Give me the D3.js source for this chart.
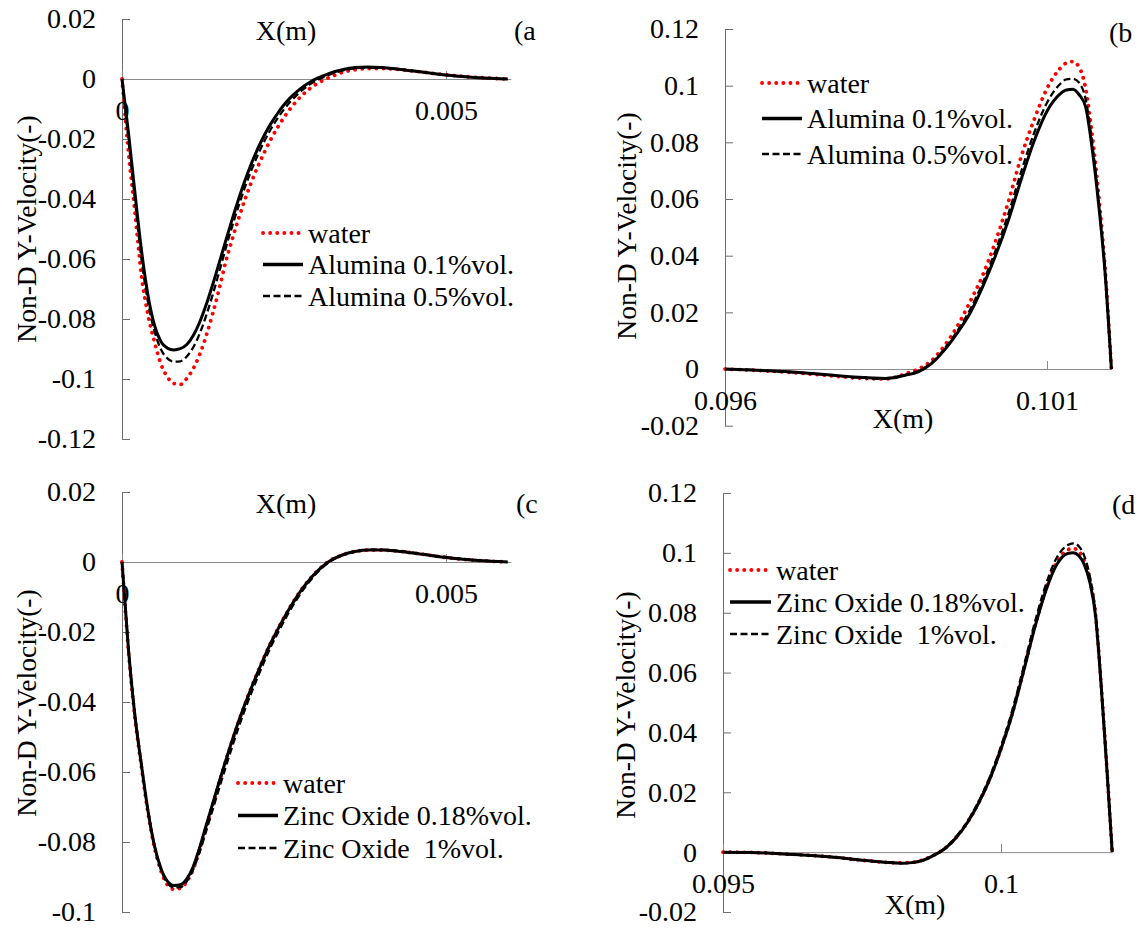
<!DOCTYPE html>
<html>
<head>
<meta charset="utf-8">
<script src="https://cdn.jsdelivr.net/npm/d3@7"></script>
<style>
  body { margin: 0; background: #fff; }
</style>
</head>
<body>
<svg id="chart"></svg>
<script>
// ---- data ----
// panels (a) and (c): near the left wall
const xNear = [0, 0.0001, 0.0002, 0.0003, 0.0004, 0.0005, 0.0006, 0.0007, 0.0008, 0.0009, 0.001,
  0.0011, 0.0012, 0.0013, 0.0014, 0.0015, 0.0016, 0.0017, 0.0018, 0.0019, 0.002,
  0.0021, 0.0022, 0.0023, 0.0024, 0.0025, 0.0026, 0.0027, 0.0028, 0.0029, 0.003,
  0.0031, 0.0032, 0.0034, 0.0036, 0.0038, 0.004, 0.0043, 0.0046, 0.005, 0.0055, 0.00595];

const waterA = [0, -0.0245, -0.0445, -0.0655, -0.0785, -0.0875, -0.0950, -0.0993, -0.1015, -0.1018, -0.0998,
  -0.0965, -0.0918, -0.0855, -0.0782, -0.0700, -0.0610, -0.0535, -0.0465, -0.0400, -0.0342,
  -0.0290, -0.0243, -0.0200, -0.0162, -0.0128, -0.0098, -0.0072, -0.0050, -0.0032, -0.0017,
  -0.0005, 0.0005, 0.0022, 0.0031, 0.0035, 0.0035, 0.0031, 0.0024, 0.0014, 0.0005, 0];
const alumina01A = [0, -0.018, -0.038, -0.057, -0.072, -0.082, -0.0875, -0.0897, -0.0903, -0.0899, -0.0885,
  -0.0855, -0.0810, -0.0752, -0.0685, -0.0613, -0.0540, -0.0468, -0.0400, -0.0337, -0.0280,
  -0.0230, -0.0186, -0.0148, -0.0115, -0.0086, -0.0062, -0.0042, -0.0025, -0.0011, 0.0001,
  0.0010, 0.0019, 0.0031, 0.0038, 0.0040, 0.0038, 0.0032, 0.0024, 0.0013, 0.0004, 0];
const alumina05A = [0, -0.0203, -0.0403, -0.0600, -0.0743, -0.0839, -0.0901, -0.0931, -0.0942, -0.0941, -0.0925,
  -0.0894, -0.0848, -0.0788, -0.0719, -0.0643, -0.0565, -0.0491, -0.0423, -0.0359, -0.0302,
  -0.0251, -0.0206, -0.0166, -0.0131, -0.0101, -0.0075, -0.0053, -0.0034, -0.0018, -0.0005,
  0.0005, 0.0014, 0.0028, 0.0036, 0.0038, 0.0037, 0.0032, 0.0024, 0.0013, 0.0004, 0];

const waterC = [0, -0.0255, -0.0445, -0.0585, -0.0715, -0.0815, -0.0882, -0.0922, -0.0935, -0.0932, -0.0913,
  -0.0877, -0.0820, -0.0756, -0.0693, -0.0630, -0.0569, -0.0511, -0.0456, -0.0405, -0.0357,
  -0.0312, -0.0269, -0.0229, -0.0193, -0.0159, -0.0127, -0.0098, -0.0071, -0.0048, -0.0028,
  -0.0011, 0.0003, 0.0020, 0.0030, 0.0034, 0.0034, 0.0030, 0.0023, 0.0013, 0.0004, 0];
const zinc018C = [0, -0.025, -0.044, -0.058, -0.071, -0.081, -0.0875, -0.0912, -0.0924, -0.0922, -0.0905,
  -0.0870, -0.0815, -0.0752, -0.0690, -0.0628, -0.0568, -0.0510, -0.0455, -0.0405, -0.0358,
  -0.0313, -0.0270, -0.0230, -0.0194, -0.0160, -0.0128, -0.0099, -0.0072, -0.0049, -0.0029,
  -0.0012, 0.0002, 0.0020, 0.0030, 0.0034, 0.0034, 0.0030, 0.0023, 0.0013, 0.0004, 0];
const zinc1C = [0, -0.0245, -0.0435, -0.0578, -0.0708, -0.0810, -0.0878, -0.0917, -0.0930, -0.0929, -0.0912,
  -0.0878, -0.0828, -0.0768, -0.0707, -0.0646, -0.0586, -0.0528, -0.0472, -0.0420, -0.0372,
  -0.0326, -0.0282, -0.0241, -0.0204, -0.0169, -0.0136, -0.0106, -0.0078, -0.0054, -0.0033,
  -0.0015, 0.0000, 0.0020, 0.0031, 0.0035, 0.0035, 0.0031, 0.0024, 0.0014, 0.0005, 0];

// panel (b): near the right wall
const xB = [0.096, 0.0965, 0.097, 0.0975, 0.098, 0.0985, 0.0988, 0.099, 0.0992, 0.0994, 0.0996, 0.0998,
  0.1, 0.1002, 0.1004, 0.1006, 0.1008, 0.101, 0.1012, 0.1013, 0.1014, 0.1015, 0.1016, 0.1017, 0.1018, 0.1019, 0.102];
const waterB = [0, -0.0005, -0.0012, -0.0021, -0.0031, -0.0035, -0.0017, 0.0000, 0.0028, 0.0080, 0.0148, 0.0235,
  0.0330, 0.0450, 0.0590, 0.0750, 0.0880, 0.0990, 0.1060, 0.1080, 0.1085, 0.1065, 0.0990, 0.0830, 0.0620, 0.0360, 0];
const alumina01B = [0, -0.0004, -0.0010, -0.0018, -0.0028, -0.0033, -0.0022, -0.0010, 0.0018, 0.0065, 0.0125, 0.0195,
  0.0290, 0.0400, 0.0525, 0.0670, 0.0805, 0.0910, 0.0970, 0.0985, 0.0987, 0.0968, 0.0925, 0.0780, 0.0585, 0.0345, 0];
const alumina05B = [0, -0.0004, -0.0011, -0.0019, -0.0029, -0.0034, -0.0021, -0.0007, 0.0020, 0.0070, 0.0132, 0.0207,
  0.0303, 0.0418, 0.0548, 0.0697, 0.0833, 0.0940, 0.1005, 0.1022, 0.1024, 0.1010, 0.0952, 0.0800, 0.0600, 0.0352, 0];

// panel (d)
const xD = [0.095, 0.0955, 0.096, 0.0965, 0.097, 0.0975, 0.098, 0.0982, 0.0984, 0.0986, 0.0988, 0.099,
  0.0992, 0.0994, 0.0996, 0.0998, 0.1, 0.1002, 0.1004, 0.1006, 0.1008, 0.101, 0.1012, 0.1013, 0.1014,
  0.1015, 0.1016, 0.1017, 0.1018, 0.1019, 0.102];
const waterD = [0, -0.0001, -0.0005, -0.0010, -0.0017, -0.0027, -0.0035, -0.0036, -0.0034, -0.0026, -0.0009, 0.0014,
  0.0051, 0.0101, 0.0166, 0.0246, 0.0346, 0.0462, 0.0602, 0.0748, 0.0875, 0.0968, 0.1010, 0.1015, 0.1005,
  0.0972, 0.0908, 0.0795, 0.0563, 0.0292, 0];
const zinc018D = [0, -0.0001, -0.0005, -0.0010, -0.0017, -0.0027, -0.0035, -0.0037, -0.0035, -0.0027, -0.0010, 0.0013,
  0.0050, 0.0100, 0.0165, 0.0245, 0.0345, 0.0460, 0.0600, 0.0745, 0.0870, 0.0960, 0.0998, 0.1000, 0.0990,
  0.0960, 0.0900, 0.0790, 0.0560, 0.0290, 0];
const zinc1D = [0, -0.0001, -0.0005, -0.0010, -0.0017, -0.0027, -0.0035, -0.0037, -0.0035, -0.0027, -0.0009, 0.0015,
  0.0053, 0.0104, 0.0170, 0.0252, 0.0354, 0.0472, 0.0614, 0.0762, 0.0890, 0.0983, 0.1026, 0.1032, 0.1022,
  0.0988, 0.0920, 0.0800, 0.0566, 0.0293, 0];

const yTicksA = [-0.12, -0.1, -0.08, -0.06, -0.04, -0.02, 0, 0.02];
const yTicksC = [-0.1, -0.08, -0.06, -0.04, -0.02, 0, 0.02];
const yTicksBD = [-0.02, 0, 0.02, 0.04, 0.06, 0.08, 0.1, 0.12];
const xTicksAC = [0, 0.005];
const xTicksB = [0.096, 0.101];
const xTicksD = [0.095, 0.1];

const alumLabels = ["water", "Alumina 0.1%vol.", "Alumina 0.5%vol."];
const zincLabels = ["water", "Zinc Oxide 0.18%vol.", "Zinc Oxide\u00a0 1%vol."];

// ---- drawing ----
const W = 1143, H = 933;
const FS = "28px";
const FONT = "'Liberation Serif', 'Times New Roman', 'DejaVu Serif', serif";
const svg = d3.select("#chart").attr("width", W).attr("height", H);

const styles = [
  { stroke: "#ff0000", width: 3.8, dash: "0.1,7", cap: "round" },
  { stroke: "#000", width: 3, dash: null, cap: "butt" },
  { stroke: "#000", width: 2.3, dash: "7,3.5", cap: "butt" }
];

const fmt = d => d === 0 ? "0" : String(+d.toFixed(4));

// small helper so every label gets the serif face
function label(sel, size) {
  return sel.attr("font-family", FONT).style("font-family", FONT)
    .style("font-size", size || FS).attr("fill", "#000");
}

const panels = [
  { tag: "(a", x: xNear, series: [waterA, alumina01A, alumina05A], labels: alumLabels,
    xDom: [0, 0.006], xRange: [122, 510.8], yDom: [-0.12, 0.02], yRange: [439, 19],
    yTicks: yTicksA, xTicks: xTicksAC,
    xTitle: [286, 30], tagPos: [514, 30], yTitle: [26, 229], legend: [263, 303, 233, 31.5] },
  { tag: "(b", x: xB, series: [waterB, alumina01B, alumina05B], labels: alumLabels,
    xDom: [0.096, 0.102], xRange: [725, 1111.4], yDom: [-0.02, 0.12], yRange: [425.7, 29],
    yTicks: yTicksBD, xTicks: xTicksB,
    xTitle: [903, 418], tagPos: [1109, 32], yTitle: [626, 226], legend: [762, 802, 83, 35.5] },
  { tag: "(c", x: xNear, series: [waterC, zinc018C, zinc1C], labels: zincLabels,
    xDom: [0, 0.006], xRange: [122, 510.8], yDom: [-0.1, 0.02], yRange: [912, 492],
    yTicks: yTicksC, xTicks: xTicksAC,
    xTitle: [286, 503], tagPos: [516, 503], yTitle: [26, 703], legend: [238, 278, 783, 32.5] },
  { tag: "(d", x: xD, series: [waterD, zinc018D, zinc1D], labels: zincLabels,
    xDom: [0.095, 0.102], xRange: [723, 1112.2], yDom: [-0.02, 0.12], yRange: [912, 493],
    yTicks: yTicksBD, xTicks: xTicksD,
    xTitle: [915, 904], tagPos: [1112, 504], yTitle: [625, 705], legend: [730, 771, 570, 32] }
];

panels.forEach(p => {
  const x = d3.scaleLinear().domain(p.xDom).range(p.xRange);
  const y = d3.scaleLinear().domain(p.yDom).range(p.yRange);
  const g = svg.append("g");

  // y axis: ticks pointing inward, labels on the left
  const yAxis = g.append("g")
    .attr("transform", `translate(${p.xRange[0]},0)`)
    .call(d3.axisLeft(y).tickValues(p.yTicks).tickFormat(fmt)
      .tickSizeInner(-8).tickSizeOuter(0).tickPadding(26));
  yAxis.attr("font-family", FONT);
  yAxis.select(".domain").attr("fill", "none").attr("stroke", "#6e6e6e");
  yAxis.selectAll("line").attr("stroke", "#6e6e6e");
  label(yAxis.selectAll("text"));

  // x axis at y = 0: ticks pointing up, labels below
  const xAxis = g.append("g")
    .attr("transform", `translate(0,${y(0)})`)
    .call(d3.axisBottom(x).tickValues(p.xTicks).tickFormat(fmt)
      .tickSizeInner(-8).tickSizeOuter(0).tickPadding(21));
  xAxis.attr("font-family", FONT);
  xAxis.select(".domain").attr("fill", "none").attr("stroke", "#8a8a8a");
  xAxis.selectAll("line").attr("stroke", "#8a8a8a");
  label(xAxis.selectAll("text"));

  // curves
  const line = d3.line().x(d => x(d[0])).y(d => y(d[1])).curve(d3.curveMonotoneX);
  p.series.forEach((vals, i) => {
    const s = styles[i];
    g.append("path")
      .datum(p.x.map((xv, k) => [xv, vals[k]]))
      .attr("d", line)
      .attr("fill", "none")
      .attr("stroke", s.stroke)
      .attr("stroke-width", s.width)
      .attr("stroke-dasharray", s.dash)
      .attr("stroke-linecap", s.cap)
      .attr("stroke-linejoin", "round");
  });

  // titles
  label(g.append("text")).attr("x", p.xTitle[0]).attr("y", p.xTitle[1]).attr("dy", "0.35em")
    .attr("text-anchor", "middle").text("X(m)");
  label(g.append("text")).attr("x", p.tagPos[0]).attr("y", p.tagPos[1]).attr("dy", "0.35em")
    .text(p.tag);
  label(g.append("text"), "27.5px")
    .attr("transform", `translate(${p.yTitle[0]},${p.yTitle[1]}) rotate(-90)`)
    .attr("dy", "0.35em").attr("text-anchor", "middle")
    .text("Non-D Y-Velocity(-)");

  // legend
  const [lx0, lx1, ly0, step] = p.legend;
  p.labels.forEach((lab, i) => {
    const s = styles[i];
    const yy = ly0 + i * step;
    g.append("line").attr("x1", lx0).attr("x2", lx1).attr("y1", yy).attr("y2", yy)
      .attr("stroke", s.stroke).attr("stroke-width", i === 1 ? 3.5 : s.width)
      .attr("stroke-dasharray", s.dash).attr("stroke-linecap", s.cap);
    label(g.append("text")).attr("x", lx1 + 5).attr("y", yy).attr("dy", "0.35em")
      .text(lab);
  });
});
</script>
</body>
</html>
